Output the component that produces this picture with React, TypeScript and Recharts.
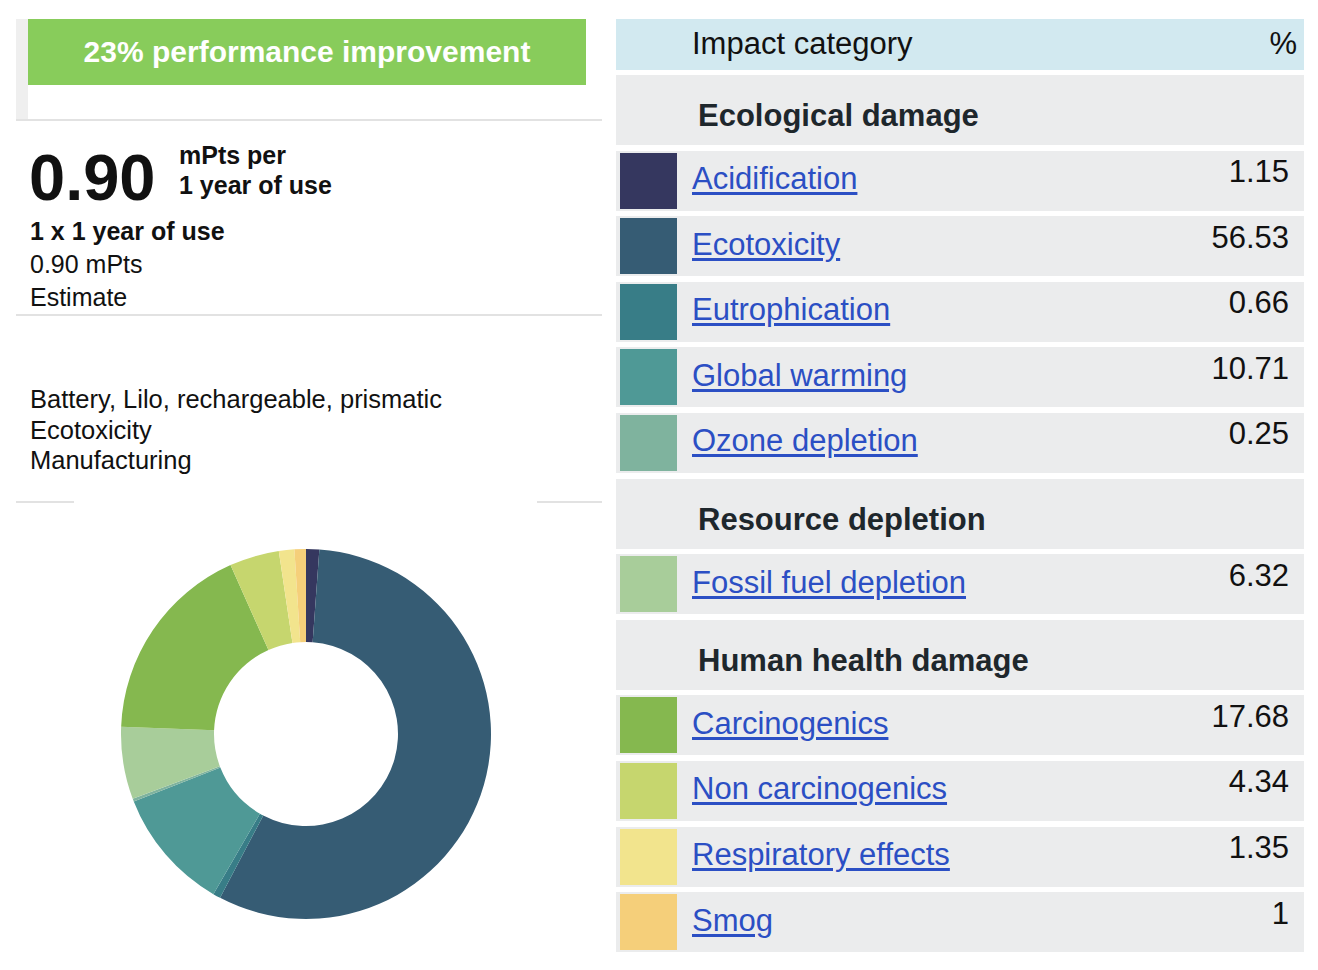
import { PieChart, Pie, Cell } from 'recharts';

const categories = [
  'Acidification',
  'Ecotoxicity',
  'Eutrophication',
  'Global warming',
  'Ozone depletion',
  'Fossil fuel depletion',
  'Carcinogenics',
  'Non carcinogenics',
  'Respiratory effects',
  'Smog',
];
const shares = [1.15, 56.53, 0.66, 10.71, 0.25, 6.32, 17.68, 4.34, 1.35, 1];
const shareLabels = ['1.15', '56.53', '0.66', '10.71', '0.25', '6.32', '17.68', '4.34', '1.35', '1'];
const sliceColors = [
  '#35375f',
  '#365c74',
  '#387d87',
  '#4f9996',
  '#7fb39e',
  '#a8cd9a',
  '#85b84f',
  '#c6d66e',
  '#f2e48d',
  '#f5cf7a',
];
const groupTitles = ['Ecological damage', 'Resource depletion', 'Human health damage'];
const groupOf = [0, 0, 0, 0, 0, 1, 2, 2, 2, 2];
const infoLines = ['Battery, Lilo, rechargeable, prismatic', 'Ecotoxicity', 'Manufacturing'];

const FONT = '"Liberation Sans", Arial, Helvetica, sans-serif';
const ROW_BG = '#ebeced';
const LINK = '#2b4fc4';

// cap-centred text helper: the line box is centred on y
function Txt({ x, y, size, bold, color, children, right }: any) {
  const lh = size * 1.4;
  const style: any = {
    position: 'absolute',
    top: y - lh / 2,
    height: lh,
    lineHeight: `${lh}px`,
    fontSize: size,
    fontWeight: bold ? 700 : 400,
    color: color || '#111',
    whiteSpace: 'nowrap',
  };
  if (right !== undefined) style.right = 1318 - right;
  else style.left = x;
  return <div style={style}>{children}</div>;
}

function ImpactTable() {
  const GROUP_H = 70;
  const ROW_H = 60;
  const GAP = 5.6;
  const blocks: any[] = [];
  let y = 75;
  let lastGroup = -1;
  categories.forEach((name, i) => {
    if (groupOf[i] !== lastGroup) {
      lastGroup = groupOf[i];
      blocks.push(
        <div key={`g${i}`}>
          <div style={{ position: 'absolute', left: 616, top: y, width: 688, height: GROUP_H, background: ROW_BG }} />
          <Txt x={698} y={y + 41} size={31} bold color="#1e272c">
            {groupTitles[lastGroup]}
          </Txt>
        </div>
      );
      y += GROUP_H + GAP;
    }
    blocks.push(
      <div key={`r${i}`}>
        <div style={{ position: 'absolute', left: 616, top: y, width: 688, height: ROW_H, background: ROW_BG }} />
        <div style={{ position: 'absolute', left: 620, top: y + 2, width: 57, height: ROW_H - 4, background: sliceColors[i] }} />
        <Txt x={692} y={y + 28} size={31} color={LINK}>
          <span style={{ textDecoration: 'underline', textUnderlineOffset: 3 }}>{name}</span>
        </Txt>
        <Txt right={1289} y={y + 21} size={31} color="#111">
          {shareLabels[i]}
        </Txt>
      </div>
    );
    y += ROW_H + GAP;
  });

  return (
    <>
      <div style={{ position: 'absolute', left: 616, top: 19, width: 688, height: 51, background: '#d2e9f0' }} />
      <Txt x={692} y={44} size={31}>Impact category</Txt>
      <Txt right={1297} y={44} size={31}>%</Txt>
      {blocks}
    </>
  );
}

export default function App() {
  const pieData = categories.map((name, i) => ({ name, value: shares[i] }));
  const line = (x: number, y: number, w: number) => (
    <div style={{ position: 'absolute', left: x, top: y, width: w, height: 2, background: '#e2e2e2' }} />
  );

  return (
    <div
      style={{
        position: 'absolute',
        left: 0,
        top: 0,
        width: 1318,
        height: 970,
        background: '#fff',
        fontFamily: FONT,
        overflow: 'hidden',
      }}
    >
      {/* left column */}
      <div style={{ position: 'absolute', left: 16, top: 19, width: 12, height: 100, background: '#efefef' }} />
      <div style={{ position: 'absolute', left: 28, top: 19, width: 558, height: 66, background: '#88cc5b' }} />
      <div
        style={{
          position: 'absolute',
          left: 28,
          top: 19,
          width: 558,
          height: 66,
          lineHeight: '66px',
          textAlign: 'center',
          color: '#fff',
          fontWeight: 700,
          fontSize: 30,
        }}
      >
        23% performance improvement
      </div>
      {line(16, 119, 586)}

      <Txt x={29} y={177} size={65} bold>0.90</Txt>
      <Txt x={179} y={155} size={25} bold>mPts per</Txt>
      <Txt x={179} y={185} size={25} bold>1 year of use</Txt>
      <Txt x={30} y={231} size={25} bold>1 x 1 year of use</Txt>
      <Txt x={30} y={264} size={25}>0.90 mPts</Txt>
      <Txt x={30} y={297} size={25}>Estimate</Txt>
      {line(16, 314, 586)}

      {infoLines.map((t, i) => (
        <Txt key={t} x={30} y={400 + i * 30.5} size={25.5}>
          {t}
        </Txt>
      ))}
      {line(16, 501, 58)}
      {line(537, 501, 65)}

      <div style={{ position: 'absolute', left: 91, top: 519 }}>
        <PieChart width={420} height={420}>
          <Pie
            data={pieData}
            dataKey="value"
            nameKey="name"
            cx={210}
            cy={210}
            innerRadius={92}
            outerRadius={185}
            startAngle={90}
            endAngle={-270}
            stroke="none"
            isAnimationActive={false}
          >
            {pieData.map((d, i) => (
              <Cell key={d.name} fill={sliceColors[i]} />
            ))}
          </Pie>
        </PieChart>
      </div>

      {/* right column */}
      <ImpactTable />
    </div>
  );
}
